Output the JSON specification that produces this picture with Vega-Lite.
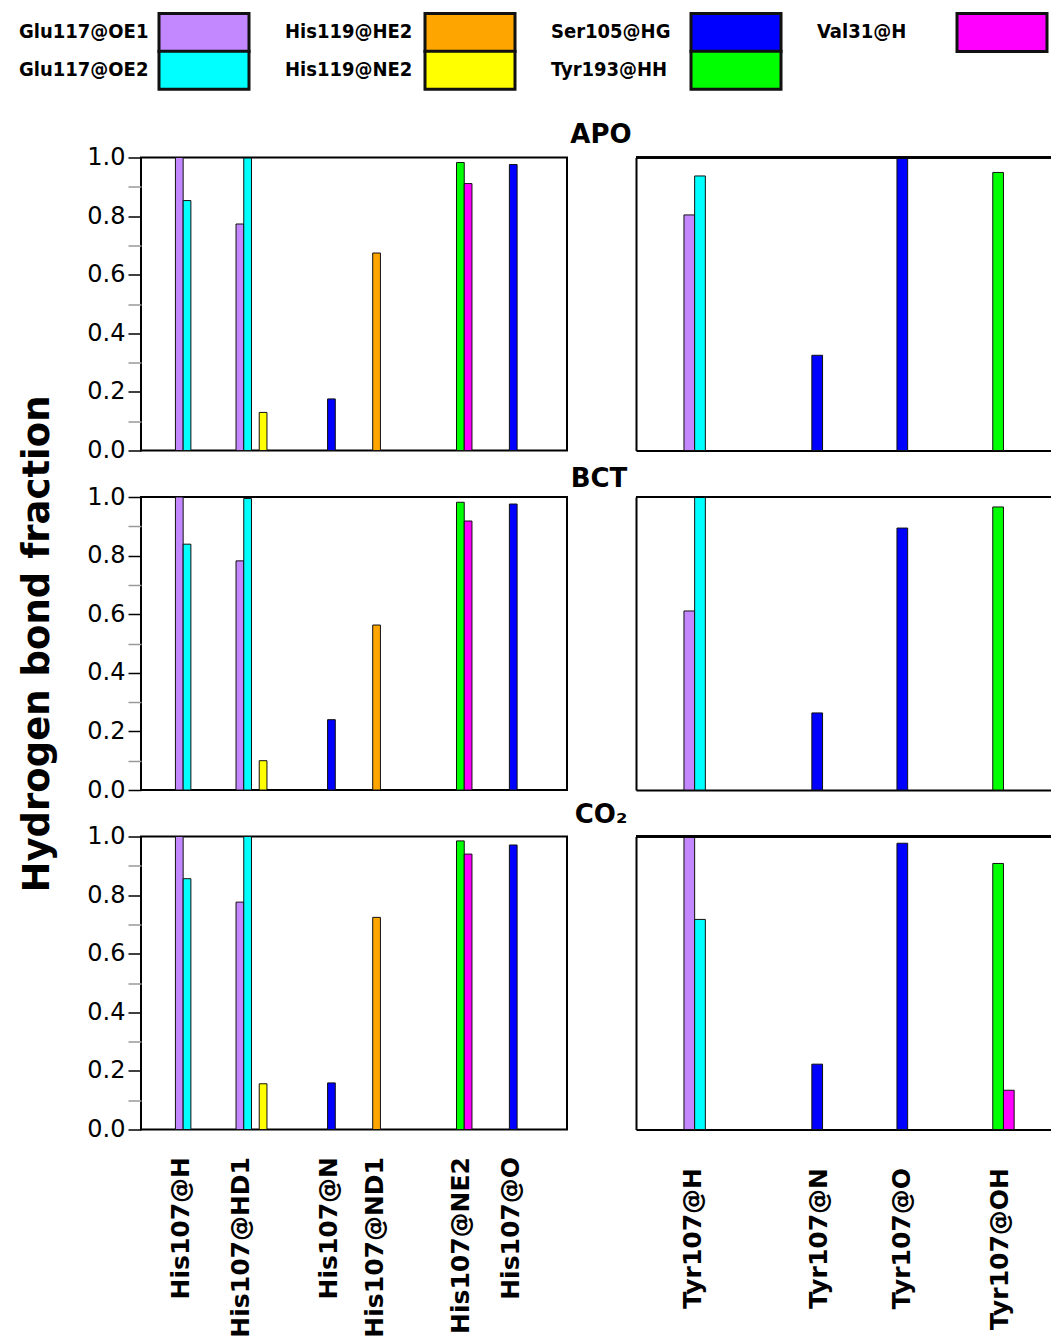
{
  "$schema": "https://vega.github.io/schema/vega-lite/v6.json",
  "background": "white",
  "padding": {"left": 17, "top": 20.5, "right": 0, "bottom": 0},
  "config": {
    "view": {"stroke": "#000", "strokeWidth": 2},
    "axis": {"grid": false}
  },
  "data": {
    "values": [
      {"state": "APO", "atom": "His107@H", "donor": "Glu117@OE1", "frac": 1.0},
      {"state": "APO", "atom": "His107@H", "donor": "Glu117@OE2", "frac": 0.853},
      {"state": "APO", "atom": "His107@HD1", "donor": "Glu117@OE1", "frac": 0.773},
      {"state": "APO", "atom": "His107@HD1", "donor": "Glu117@OE2", "frac": 0.998},
      {"state": "APO", "atom": "His107@HD1", "donor": "His119@NE2", "frac": 0.13},
      {"state": "APO", "atom": "His107@N", "donor": "Ser105@HG", "frac": 0.176},
      {"state": "APO", "atom": "His107@ND1", "donor": "His119@HE2", "frac": 0.674},
      {"state": "APO", "atom": "His107@NE2", "donor": "Tyr193@HH", "frac": 0.983},
      {"state": "APO", "atom": "His107@NE2", "donor": "Val31@H", "frac": 0.911},
      {"state": "APO", "atom": "His107@O", "donor": "Ser105@HG", "frac": 0.976},
      {"state": "APO", "atom": "Tyr107@H", "donor": "Glu117@OE1", "frac": 0.804},
      {"state": "APO", "atom": "Tyr107@H", "donor": "Glu117@OE2", "frac": 0.937},
      {"state": "APO", "atom": "Tyr107@N", "donor": "Ser105@HG", "frac": 0.325},
      {"state": "APO", "atom": "Tyr107@O", "donor": "Ser105@HG", "frac": 1.0},
      {"state": "APO", "atom": "Tyr107@OH", "donor": "Tyr193@HH", "frac": 0.949},
      {"state": "BCT", "atom": "His107@H", "donor": "Glu117@OE1", "frac": 1.0},
      {"state": "BCT", "atom": "His107@H", "donor": "Glu117@OE2", "frac": 0.839},
      {"state": "BCT", "atom": "His107@HD1", "donor": "Glu117@OE1", "frac": 0.782},
      {"state": "BCT", "atom": "His107@HD1", "donor": "Glu117@OE2", "frac": 0.995},
      {"state": "BCT", "atom": "His107@HD1", "donor": "His119@NE2", "frac": 0.1},
      {"state": "BCT", "atom": "His107@N", "donor": "Ser105@HG", "frac": 0.24},
      {"state": "BCT", "atom": "His107@ND1", "donor": "His119@HE2", "frac": 0.563},
      {"state": "BCT", "atom": "His107@NE2", "donor": "Tyr193@HH", "frac": 0.982},
      {"state": "BCT", "atom": "His107@NE2", "donor": "Val31@H", "frac": 0.918},
      {"state": "BCT", "atom": "His107@O", "donor": "Ser105@HG", "frac": 0.976},
      {"state": "BCT", "atom": "Tyr107@H", "donor": "Glu117@OE1", "frac": 0.611},
      {"state": "BCT", "atom": "Tyr107@H", "donor": "Glu117@OE2", "frac": 1.0},
      {"state": "BCT", "atom": "Tyr107@N", "donor": "Ser105@HG", "frac": 0.263},
      {"state": "BCT", "atom": "Tyr107@O", "donor": "Ser105@HG", "frac": 0.894},
      {"state": "BCT", "atom": "Tyr107@OH", "donor": "Tyr193@HH", "frac": 0.966},
      {"state": "CO2", "atom": "His107@H", "donor": "Glu117@OE1", "frac": 1.0},
      {"state": "CO2", "atom": "His107@H", "donor": "Glu117@OE2", "frac": 0.856},
      {"state": "CO2", "atom": "His107@HD1", "donor": "Glu117@OE1", "frac": 0.776},
      {"state": "CO2", "atom": "His107@HD1", "donor": "Glu117@OE2", "frac": 1.0},
      {"state": "CO2", "atom": "His107@HD1", "donor": "His119@NE2", "frac": 0.156},
      {"state": "CO2", "atom": "His107@N", "donor": "Ser105@HG", "frac": 0.159},
      {"state": "CO2", "atom": "His107@ND1", "donor": "His119@HE2", "frac": 0.724},
      {"state": "CO2", "atom": "His107@NE2", "donor": "Tyr193@HH", "frac": 0.985},
      {"state": "CO2", "atom": "His107@NE2", "donor": "Val31@H", "frac": 0.94},
      {"state": "CO2", "atom": "His107@O", "donor": "Ser105@HG", "frac": 0.971},
      {"state": "CO2", "atom": "Tyr107@H", "donor": "Glu117@OE1", "frac": 1.0},
      {"state": "CO2", "atom": "Tyr107@H", "donor": "Glu117@OE2", "frac": 0.717},
      {"state": "CO2", "atom": "Tyr107@N", "donor": "Ser105@HG", "frac": 0.223},
      {"state": "CO2", "atom": "Tyr107@O", "donor": "Ser105@HG", "frac": 0.977},
      {"state": "CO2", "atom": "Tyr107@OH", "donor": "Tyr193@HH", "frac": 0.908},
      {"state": "CO2", "atom": "Tyr107@OH", "donor": "Val31@H", "frac": 0.134}
    ]
  },
  "columns": 2,
  "bounds": "flush",
  "spacing": {"row": 46.5, "column": 69},
  "resolve": {
    "scale": {"x": "independent", "y": "independent", "xOffset": "independent", "color": "shared"},
    "axis": {"x": "independent", "y": "independent"},
    "legend": {"color": "shared"}
  },
  "concat": [
    {
      "width": 426, "height": 293,
      "transform": [{"filter": "datum.state === 'APO' && indexof(datum.atom, 'His') === 0"}],
      "mark": {"type": "bar", "stroke": "#111", "strokeWidth": 1},
      "encoding": {
        "x": {"field": "atom", "type": "nominal", "scale": {"domain": ["His107@H", "His107@HD1", "His107@N", "His107@ND1", "His107@NE2", "His107@O"], "paddingInner": 0.107, "paddingOuter": 0.568}, "axis": {"labels": false, "ticks": false, "tickSize": 0, "domain": false, "title": null}},
        "xOffset": {"field": "donor", "type": "nominal", "scale": {"domain": ["Glu117@OE1", "Glu117@OE2", "His119@HE2", "His119@NE2", "Ser105@HG", "Tyr193@HH", "Val31@H"], "paddingInner": 0, "paddingOuter": 0}},
        "y": {"field": "frac", "type": "quantitative", "scale": {"domain": [0, 1], "nice": false}, "axis": {"values": [0, 0.1, 0.2, 0.3, 0.4, 0.5, 0.6, 0.7, 0.8, 0.9, 1.0], "labelExpr": "round(datum.value*10) % 2 === 0 ? format(datum.value, '.1f') : ''", "tickSize": 13, "tickWidth": 1.5, "tickColor": {"condition": {"test": "round(datum.value*10) % 2 === 0", "value": "#000"}, "value": "#999"}, "labelFont": "DejaVu Sans", "labelFontSize": 24, "labelColor": "#000", "labelPadding": 3, "domain": false, "title": null}},
        "color": {"field": "donor", "type": "nominal", "scale": {"domain": ["Glu117@OE1", "His119@HE2", "Ser105@HG", "Val31@H", "Glu117@OE2", "His119@NE2", "Tyr193@HH"], "range": ["#c387ff", "#ffa500", "#0000ff", "#ff00ff", "#00ffff", "#ffff00", "#00ff00"]}, "legend": {"title": null, "orient": "none", "legendX": 51.5, "legendY": -136.8, "columns": 4, "direction": "horizontal", "symbolType": "M-4.5,-1.9H4.5V1.9H-4.5Z", "symbolSize": 400, "symbolStrokeColor": "#000", "symbolStrokeWidth": 3, "symbolOpacity": 1, "labelAlign": "left", "labelOffset": -196.5, "labelFont": "DejaVu Sans Condensed, DejaVu Sans", "labelFontWeight": "bold", "labelFontSize": 20, "labelColor": "#000", "labelLimit": 0, "columnPadding": 29, "rowPadding": -13}}
      }
    },
    {
      "width": 416, "height": 293,
      "view": {"stroke": null},
      "title": {"text": "APO", "anchor": "middle", "dx": -243, "dy": 27, "offset": 15, "baseline": "alphabetic", "fontSize": 26, "font": "DejaVu Sans", "fontWeight": "bold", "color": "#000"},
      "transform": [{"filter": "datum.state === 'APO' && indexof(datum.atom, 'Tyr') === 0"}],
      "layer": [
        {
          "mark": {"type": "bar", "stroke": "#111", "strokeWidth": 1},
          "encoding": {
            "x": {"field": "atom", "type": "nominal", "scale": {"domain": ["Tyr107@H", "Tyr107@N", "Tyr107@O", "Tyr107@OH"], "paddingInner": 0.12, "paddingOuter": 0.504, "align": 0.559}, "axis": {"labels": false, "ticks": false, "tickSize": 0, "domain": true, "domainColor": "#000", "domainWidth": 2, "title": null}},
            "xOffset": {"field": "donor", "type": "nominal", "scale": {"domain": ["Glu117@OE1", "Glu117@OE2", "His119@HE2", "His119@NE2", "Ser105@HG", "Tyr193@HH", "Val31@H"], "paddingInner": 0, "paddingOuter": 0}},
            "y": {"field": "frac", "type": "quantitative", "scale": {"domain": [0, 1], "nice": false}, "axis": {"labels": false, "ticks": false, "domain": true, "domainColor": "#000", "domainWidth": 2, "title": null}},
            "color": {"field": "donor", "type": "nominal"}
          }
        },
        {
          "mark": {"type": "rule", "color": "#000", "strokeWidth": 2},
          "encoding": {"y": {"datum": 1}}
        }
      ]
    },
    {
      "width": 426, "height": 293,
      "transform": [{"filter": "datum.state === 'BCT' && indexof(datum.atom, 'His') === 0"}],
      "mark": {"type": "bar", "stroke": "#111", "strokeWidth": 1},
      "encoding": {
        "x": {"field": "atom", "type": "nominal", "scale": {"domain": ["His107@H", "His107@HD1", "His107@N", "His107@ND1", "His107@NE2", "His107@O"], "paddingInner": 0.107, "paddingOuter": 0.568}, "axis": {"labels": false, "ticks": false, "tickSize": 0, "domain": false, "title": null}},
        "xOffset": {"field": "donor", "type": "nominal", "scale": {"domain": ["Glu117@OE1", "Glu117@OE2", "His119@HE2", "His119@NE2", "Ser105@HG", "Tyr193@HH", "Val31@H"], "paddingInner": 0, "paddingOuter": 0}},
        "y": {"field": "frac", "type": "quantitative", "scale": {"domain": [0, 1], "nice": false}, "axis": {"values": [0, 0.1, 0.2, 0.3, 0.4, 0.5, 0.6, 0.7, 0.8, 0.9, 1.0], "labelExpr": "round(datum.value*10) % 2 === 0 ? format(datum.value, '.1f') : ''", "tickSize": 13, "tickWidth": 1.5, "tickColor": {"condition": {"test": "round(datum.value*10) % 2 === 0", "value": "#000"}, "value": "#999"}, "labelFont": "DejaVu Sans", "labelFontSize": 24, "labelColor": "#000", "labelPadding": 3, "domain": false, "title": "Hydrogen bond fraction", "titleFont": "DejaVu Sans", "titleFontSize": 37, "titleFontWeight": "bold", "titleColor": "#000", "titlePadding": 30}},
        "color": {"field": "donor", "type": "nominal"}
      }
    },
    {
      "width": 416, "height": 293,
      "view": {"stroke": null},
      "title": {"text": "BCT", "anchor": "middle", "dx": -245, "dy": 27, "offset": 10, "baseline": "alphabetic", "fontSize": 26, "font": "DejaVu Sans", "fontWeight": "bold", "color": "#000"},
      "transform": [{"filter": "datum.state === 'BCT' && indexof(datum.atom, 'Tyr') === 0"}],
      "layer": [
        {
          "mark": {"type": "bar", "stroke": "#111", "strokeWidth": 1},
          "encoding": {
            "x": {"field": "atom", "type": "nominal", "scale": {"domain": ["Tyr107@H", "Tyr107@N", "Tyr107@O", "Tyr107@OH"], "paddingInner": 0.12, "paddingOuter": 0.504, "align": 0.559}, "axis": {"labels": false, "ticks": false, "tickSize": 0, "domain": true, "domainColor": "#000", "domainWidth": 2, "title": null}},
            "xOffset": {"field": "donor", "type": "nominal", "scale": {"domain": ["Glu117@OE1", "Glu117@OE2", "His119@HE2", "His119@NE2", "Ser105@HG", "Tyr193@HH", "Val31@H"], "paddingInner": 0, "paddingOuter": 0}},
            "y": {"field": "frac", "type": "quantitative", "scale": {"domain": [0, 1], "nice": false}, "axis": {"labels": false, "ticks": false, "domain": true, "domainColor": "#000", "domainWidth": 2, "title": null}},
            "color": {"field": "donor", "type": "nominal"}
          }
        },
        {
          "mark": {"type": "rule", "color": "#000", "strokeWidth": 2},
          "encoding": {"y": {"datum": 1}}
        }
      ]
    },
    {
      "width": 426, "height": 293,
      "transform": [{"filter": "datum.state === 'CO2' && indexof(datum.atom, 'His') === 0"}],
      "mark": {"type": "bar", "stroke": "#111", "strokeWidth": 1},
      "encoding": {
        "x": {"field": "atom", "type": "nominal", "scale": {"domain": ["His107@H", "His107@HD1", "His107@N", "His107@ND1", "His107@NE2", "His107@O"], "paddingInner": 0.107, "paddingOuter": 0.568}, "axis": {"labels": true, "ticks": false, "tickSize": 0, "domain": false, "title": null, "labelAngle": -90, "labelAlign": "right", "labelBaseline": "middle", "labelFont": "DejaVu Sans", "labelFontSize": 25, "labelFontWeight": "bold", "labelColor": "#000", "labelLimit": 0, "labelOverlap": false, "labelPadding": 27, "labelOffset": {"condition": [{"test": "datum.value === 'His107@H'", "value": -21}, {"test": "datum.value === 'His107@HD1'", "value": -22}, {"test": "datum.value === 'His107@N'", "value": 5}, {"test": "datum.value === 'His107@ND1'", "value": -9}, {"test": "datum.value === 'His107@NE2'", "value": 16}], "value": 5}}},
        "xOffset": {"field": "donor", "type": "nominal", "scale": {"domain": ["Glu117@OE1", "Glu117@OE2", "His119@HE2", "His119@NE2", "Ser105@HG", "Tyr193@HH", "Val31@H"], "paddingInner": 0, "paddingOuter": 0}},
        "y": {"field": "frac", "type": "quantitative", "scale": {"domain": [0, 1], "nice": false}, "axis": {"values": [0, 0.1, 0.2, 0.3, 0.4, 0.5, 0.6, 0.7, 0.8, 0.9, 1.0], "labelExpr": "round(datum.value*10) % 2 === 0 ? format(datum.value, '.1f') : ''", "tickSize": 13, "tickWidth": 1.5, "tickColor": {"condition": {"test": "round(datum.value*10) % 2 === 0", "value": "#000"}, "value": "#999"}, "labelFont": "DejaVu Sans", "labelFontSize": 24, "labelColor": "#000", "labelPadding": 3, "domain": false, "title": null}},
        "color": {"field": "donor", "type": "nominal"}
      }
    },
    {
      "width": 416, "height": 293,
      "view": {"stroke": null},
      "title": {"text": "CO₂", "anchor": "middle", "dx": -243, "dy": 27, "offset": 14, "baseline": "alphabetic", "fontSize": 26, "font": "DejaVu Sans", "fontWeight": "bold", "color": "#000"},
      "transform": [{"filter": "datum.state === 'CO2' && indexof(datum.atom, 'Tyr') === 0"}],
      "layer": [
        {
          "mark": {"type": "bar", "stroke": "#111", "strokeWidth": 1},
          "encoding": {
            "x": {"field": "atom", "type": "nominal", "scale": {"domain": ["Tyr107@H", "Tyr107@N", "Tyr107@O", "Tyr107@OH"], "paddingInner": 0.12, "paddingOuter": 0.504, "align": 0.559}, "axis": {"labels": true, "ticks": false, "tickSize": 0, "domain": true, "domainColor": "#000", "domainWidth": 2, "title": null, "labelAngle": -90, "labelAlign": "right", "labelBaseline": "middle", "labelFont": "DejaVu Sans", "labelFontSize": 25, "labelFontWeight": "bold", "labelColor": "#000", "labelLimit": 0, "labelOverlap": false, "labelPadding": 38, "labelOffset": {"condition": [{"test": "datum.value === 'Tyr107@H'", "value": -28}, {"test": "datum.value === 'Tyr107@N'", "value": 12}, {"test": "datum.value === 'Tyr107@O'", "value": 10}], "value": 23}}},
            "xOffset": {"field": "donor", "type": "nominal", "scale": {"domain": ["Glu117@OE1", "Glu117@OE2", "His119@HE2", "His119@NE2", "Ser105@HG", "Tyr193@HH", "Val31@H"], "paddingInner": 0, "paddingOuter": 0}},
            "y": {"field": "frac", "type": "quantitative", "scale": {"domain": [0, 1], "nice": false}, "axis": {"labels": false, "ticks": false, "domain": true, "domainColor": "#000", "domainWidth": 2, "title": null}},
            "color": {"field": "donor", "type": "nominal"}
          }
        },
        {
          "mark": {"type": "rule", "color": "#000", "strokeWidth": 2},
          "encoding": {"y": {"datum": 1}}
        }
      ]
    }
  ]
}
